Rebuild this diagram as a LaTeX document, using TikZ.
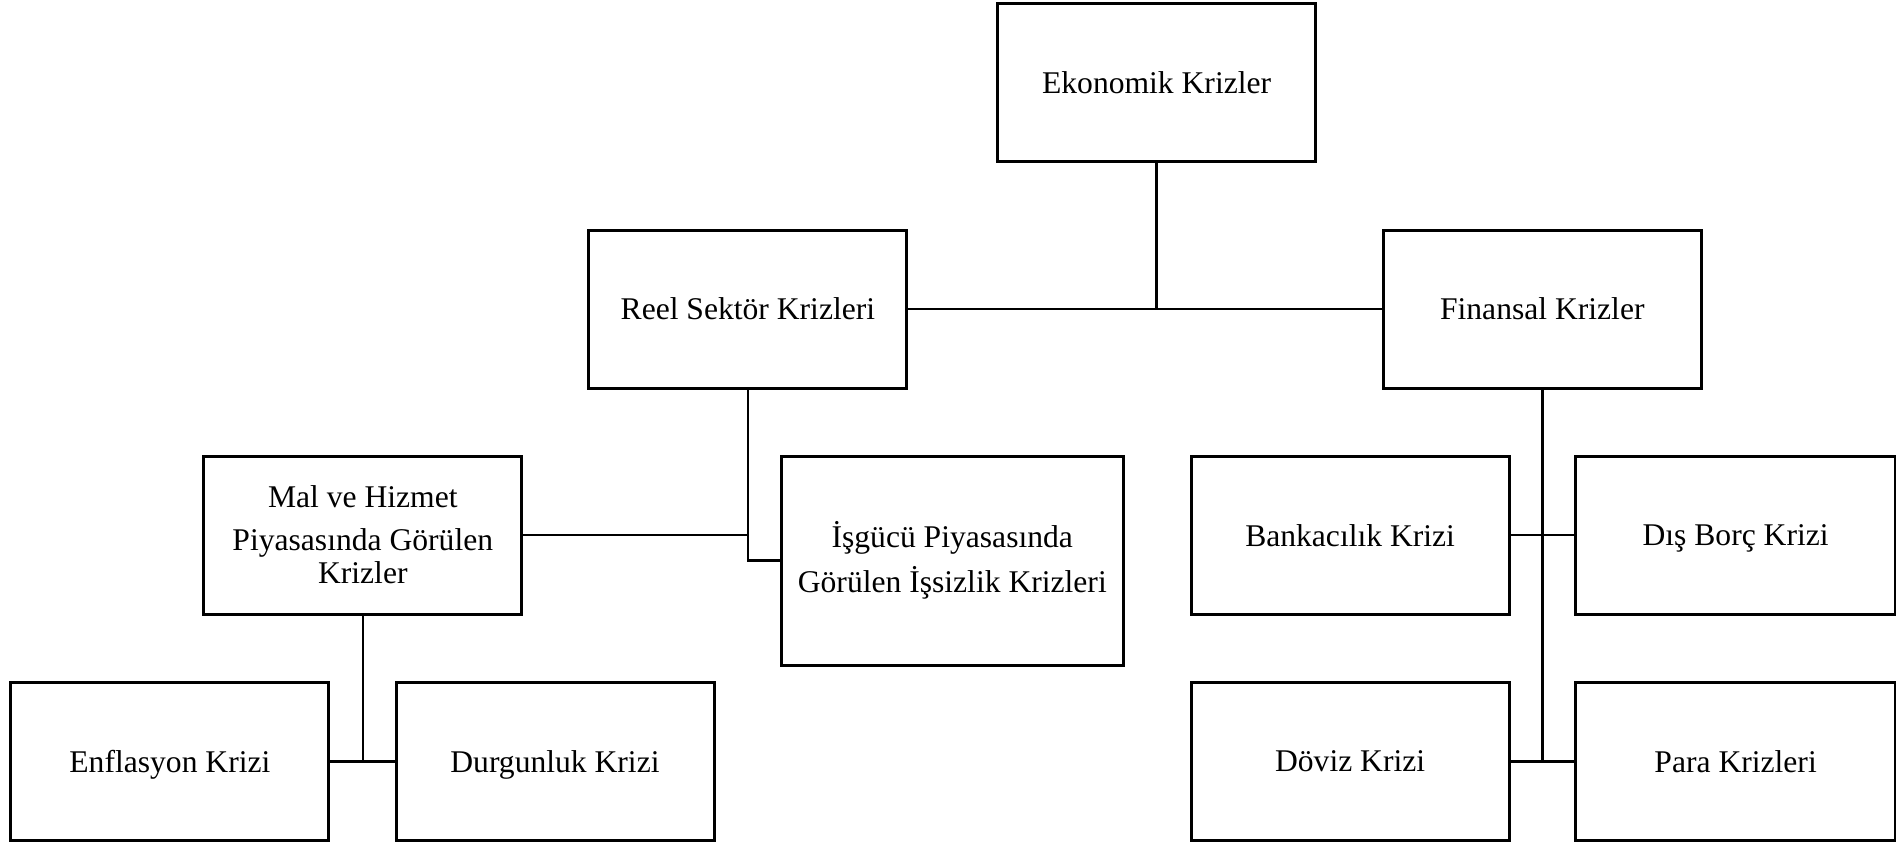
\documentclass[tikz,border=0pt]{standalone}
\usepackage{fontspec}
\setmainfont{Liberation Serif}
\begin{document}
\begin{tikzpicture}[x=0.5pt,y=-0.5pt,
  box/.style={draw, line width=1.5pt, rectangle, minimum width=159pt, minimum height=79pt, inner sep=0pt, align=center, font=\fontsize{15.8}{16.5}\selectfont},
  one/.style={text depth=0pt},
  conn/.style={line width=1.3pt}]
\useasboundingbox (0,0) rectangle (1896,843);
\node[box, one] (eko) at (1156.6,82.8) {Ekonomik Krizler};
\node[box, one] (reel) at (747.9,309) {Reel Sektör Krizleri};
\node[box, one] (fin) at (1542.3,309) {Finansal Krizler};
\node[box] (mal) at (362.8,535.1) {Mal ve Hizmet\\[5pt]Piyasasında Görülen\\Krizler};
\node[box, minimum width=171pt, minimum height=104.5pt] (isg) at (952.3,560.5) {İşgücü Piyasasında\\[6pt]Görülen İşsizlik Krizleri};
\node[box, one] (ban) at (1350.1,535.1) {Bankacılık Krizi};
\node[box, one, minimum width=160pt] (dis) at (1735.6,535.1) {Dış Borç Krizi};
\node[box, one] (enf) at (169.9,761.2) {Enflasyon Krizi};
\node[box, one] (dur) at (555,761.2) {Durgunluk Krizi};
\node[box, one] (dov) at (1350.1,761.2) {Döviz Krizi};
\node[box, one, minimum width=160pt] (par) at (1735.6,761.2) {Para Krizleri};
\coordinate (j1) at (eko.south |- reel.east);
\coordinate (j2) at (reel.south |- isg.west);
\coordinate (j3) at (reel.south |- mal.east);
\coordinate (j4) at (mal.south |- enf.east);
\coordinate (j5) at (fin.south |- dov.east);
\draw[conn] (eko.south) -- (j1);
\draw[conn] (reel.east) -- (fin.west);
\draw[conn] (reel.south) -- (j2) -- (isg.west);
\draw[conn] (mal.east) -- (j3);
\draw[conn] (mal.south) -- (j4);
\draw[conn] (enf.east) -- (dur.west);
\draw[conn] (fin.south) -- (j5);
\draw[conn] (ban.east) -- (dis.west);
\draw[conn] (dov.east) -- (par.west);
\end{tikzpicture}
\end{document}
